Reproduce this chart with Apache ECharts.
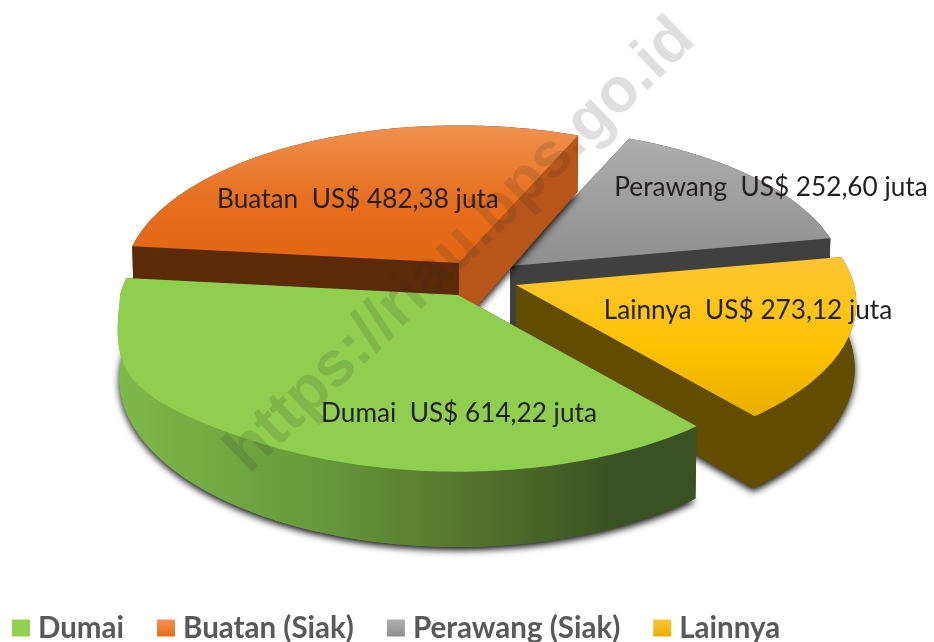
<!DOCTYPE html>
<html>
<head>
<meta charset="utf-8">
<style>html,body{margin:0;padding:0;background:#fff}#c{width:934px;height:642px}</style>
<script src="https://cdn.jsdelivr.net/npm/echarts@6/dist/echarts.min.js"></script>
</head>
<body>
<div id="c"></div>
<script>
// Data
const sliceNames = ['Dumai', 'Buatan', 'Perawang', 'Lainnya'];
const legendNames = ['Dumai', 'Buatan (Siak)', 'Perawang (Siak)', 'Lainnya'];
const sliceValues = [614.22, 482.38, 252.60, 273.12];
const valueUnit = 'juta';
const currency = 'US$';
const watermark = 'https://riau.bps.go.id';

// Projection (tilted disc with mild perspective)
const RX = 338, RY = 156, PERSP = 0.117, THICK = 64, THICK_PERSP = 0.15, START_DEG = 50, BULGE = 50;
const total = sliceValues.reduce((a, b) => a + b, 0);

const G = (x0, y0, x1, y1, stops) => new echarts.graphic.LinearGradient(x0, y0, x1, y1,
  stops.map((s) => ({ offset: s[0], color: s[1] })));

// Layout and style per slice
const looks = [
  { apex: [458, 295], scale: 1, label: [459, 414],
    top: () => '#8fce4f',
    wall: () => G(0, 0, 1, 0, [[0, '#7fb94a'], [0.35, '#67983a'], [0.65, '#4f6f2b'], [0.85, '#3a5222'], [1, '#3a5222']]),
    cutEnd: '#3a5222', cutStart: '#3a5222', legend: '#92d050' },
  { apex: [459, 263], scale: 0.985, label: [358, 200],
    top: () => G(0, 0, 0, 1, [[0, '#f0914f'], [0.55, '#e66f1e'], [1, '#e26712']]),
    wall: () => '#5c2a08', cutStart: '#5c2a08', cutEnd: '#b8561a',
    legend: G(0, 0, 0, 1, [[0, '#f4905a'], [1, '#e86c12']]) },
  { apex: [510, 266], scale: 0.985, label: [771, 188],
    top: () => G(0, 0, 0, 1, [[0, '#adadad'], [1, '#8e8e8e']]),
    wall: () => '#404040', cutStart: '#404040', cutEnd: '#404040',
    legend: G(0, 0, 0, 1, [[0, '#b0b0b0'], [1, '#8e8e8e']]) },
  { apex: [516, 285], scale: 1, label: [748, 311],
    top: () => G(0, 0, 0, 1, [[0, '#fcc634'], [0.6, '#fcc200'], [1, '#e6ae00']]),
    wall: () => '#624c00', cutStart: '#624c00', cutEnd: '#624c00',
    legend: G(0, 0, 0, 1, [[0, '#fdc535'], [1, '#e8b000']]) }
];

function spans() {
  let a = START_DEG;
  return sliceValues.map((v) => {
    const s = { from: a, to: a + (v / total) * 360 };
    a = s.to;
    return s;
  });
}
const angleSpans = spans();

function project(look, deg, r, lower) {
  const t = (deg * Math.PI) / 180;
  const u = r * Math.cos(t), v = r * Math.sin(t);
  const w = 1 - PERSP * v;
  const px = look.scale * (RX * u) / w;
  const py = look.scale * (RY * v) / w;
  if (lower) return [look.apex[0] + px * 0.995, look.apex[1] + py + THICK / (1 - THICK_PERSP * v)];
  const bulge = u < 0 && v > 0 ? BULGE * Math.pow(u, 6) * Math.sqrt(v) : 0;
  return [look.apex[0] + px, look.apex[1] + py + bulge];
}
function arc(look, from, to, lower) {
  const pts = [];
  const n = Math.max(2, Math.ceil(to - from));
  for (let i = 0; i <= n; i++) pts.push(project(look, from + ((to - from) * i) / n, 1, lower));
  return pts;
}
function label(i) {
  return sliceNames[i] + '  ' + currency + ' ' + sliceValues[i].toFixed(2).replace('.', ',') + ' ' + valueUnit;
}

function renderSlice(idx) {
  const look = looks[idx], sp = angleSpans[idx];
  const topArc = arc(look, sp.from, sp.to, false);
  const lowArc = arc(look, sp.from, sp.to, true);
  const A0 = project(look, 0, 0, false), A1 = project(look, 0, 0, true);
  const poly = (points, fill, extra) => ({
    type: 'polygon', shape: { points },
    style: Object.assign({ fill, stroke: null }, extra || {}), silent: true
  });
  const last = topArc.length - 1;
  return {
    type: 'group',
    children: [
      poly([A1].concat(lowArc), look.wall(), { shadowBlur: 7, shadowOffsetY: 3, shadowColor: 'rgba(0,0,0,0.95)' }),
      poly(topArc.concat(lowArc.slice().reverse()), look.wall()),
      poly([A0, topArc[last], lowArc[last], A1], look.cutEnd),
      poly([A0, topArc[0], lowArc[0], A1], look.cutStart),
      poly([A0].concat(topArc), look.top()),
      {
        type: 'text',
        style: {
          text: label(idx), x: look.label[0], y: look.label[1],
          align: 'center', verticalAlign: 'middle',
          font: '26.2px Lato', fill: '#231f20'
        }
      }
    ]
  };
}

// Back slices first so that the front ones cover them
const drawOrder = [2, 1, 3, 0];

const chart = echarts.init(document.getElementById('c'), null, { renderer: 'canvas' });
chart.setOption({
  animation: false,
  backgroundColor: '#fff',
  legend: {
    left: 12, top: 613, padding: 0, itemGap: 33, itemWidth: 18, itemHeight: 17, icon: 'rect',
    selectedMode: false,
    textStyle: { fontFamily: 'Lato', fontWeight: 'bold', fontSize: 29.5, color: '#595959', padding: [0, 0, 0, 3] },
    data: sliceNames.map((n, i) => ({ name: legendNames[i], itemStyle: { color: looks[i].legend } }))
  },
  series: drawOrder.map((i) => ({
    type: 'custom', name: legendNames[i], coordinateSystem: 'none',
    data: [[sliceValues[i]]],
    itemStyle: { color: '#92d050' },
    renderItem: () => renderSlice(i)
  })),
  graphic: [{
    type: 'text', z: 100, x: 461, y: 246,
    rotation: (44 * Math.PI) / 180,
    style: { text: watermark, font: 'bold 63px "Liberation Sans"', fill: 'rgba(40,40,40,0.15)', align: 'center', verticalAlign: 'middle' },
    silent: true
  }]
});
</script>
</body>
</html>
